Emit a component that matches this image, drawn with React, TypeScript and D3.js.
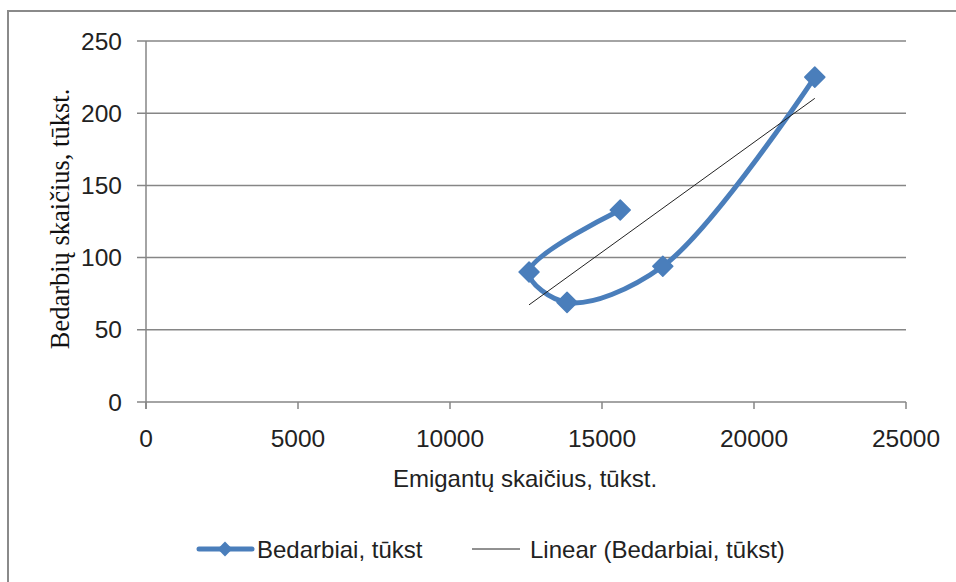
import React from "react";
import * as d3 from "d3";

const emigrants = [15600, 12600, 13850, 17000, 22000];
const unemployed = [133, 90, 69, 94, 225];
const xTicks = [0, 5000, 10000, 15000, 20000, 25000];
const yTicks = [0, 50, 100, 150, 200, 250];
const seriesName = "Bedarbiai, tūkst";
const trendName = "Linear (Bedarbiai, tūkst)";
const xTitle = "Emigantų skaičius, tūkst.";
const yTitle = "Bedarbių skaičius, tūkst.";

const W = 956;
const H = 582;
const left = 146, right = 906, top = 41, bottom = 402;
const blue = "#4A7EBB";
const grid = "#868686";
const sans = "'Liberation Sans', Arial, sans-serif";

export default function App() {
  const x = d3.scaleLinear().domain([0, 25000]).range([left, right]);
  const y = d3.scaleLinear().domain([0, 250]).range([bottom, top]);
  const pts: [number, number][] = emigrants.map((e, i) => [e, unemployed[i]]);

  const line = d3
    .line<[number, number]>()
    .x((d) => x(d[0]))
    .y((d) => y(d[1]))
    .curve(d3.curveCatmullRom.alpha(0.5));

  // linear regression
  const mx = d3.mean(emigrants)!;
  const my = d3.mean(unemployed)!;
  let sxy = 0, sxx = 0;
  pts.forEach(([a, b]) => {
    sxy += (a - mx) * (b - my);
    sxx += (a - mx) * (a - mx);
  });
  const slope = sxy / sxx;
  const icpt = my - slope * mx;
  const [x0, x1] = d3.extent(emigrants) as [number, number];
  const trend: [number, number][] = [
    [x0, icpt + slope * x0],
    [x1, icpt + slope * x1],
  ];
  const trendLine = d3.line<[number, number]>().x((d) => x(d[0])).y((d) => y(d[1]));

  const diamond = d3.symbol().type(d3.symbolSquare).size(200)();
  const diamondSmall = d3.symbol().type(d3.symbolSquare).size(110)();

  return (
    <svg
      width={W}
      height={H}
      style={{ position: "absolute", left: 0, top: 0, background: "#fff" }}
    >
      <rect x={8} y={11} width={W + 10} height={H + 10} fill="#fff" stroke="#8a8a8a" strokeWidth={2} />
      {yTicks.map((t) => (
        <g key={t}>
          <line x1={137} x2={right} y1={y(t)} y2={y(t)} stroke={grid} strokeWidth={1.5} />
          <text
            x={122}
            y={y(t)}
            textAnchor="end"
            dominantBaseline="central"
            fontFamily={sans}
            fontSize={24.5}
            fill="#222"
          >
            {t}
          </text>
        </g>
      ))}
      <line x1={left} x2={left} y1={top} y2={bottom + 7} stroke={grid} strokeWidth={1.5} />
      {xTicks.map((t) => (
        <g key={t}>
          <line x1={x(t)} x2={x(t)} y1={bottom} y2={bottom + 7} stroke={grid} strokeWidth={1.5} />
          <text
            x={x(t)}
            y={438}
            textAnchor="middle"
            dominantBaseline="central"
            fontFamily={sans}
            fontSize={24.5}
            fill="#222"
          >
            {t}
          </text>
        </g>
      ))}
      <text
        x={525}
        y={478}
        textAnchor="middle"
        dominantBaseline="central"
        fontFamily={sans}
        fontSize={24}
        fill="#222"
      >
        {xTitle}
      </text>
      <text
        transform={`translate(60,219) rotate(-90)`}
        textAnchor="middle"
        dominantBaseline="central"
        fontFamily="'Liberation Serif', 'Times New Roman', serif"
        fontSize={26.5}
        fill="#111"
      >
        {yTitle}
      </text>

      <path d={line(pts)!} fill="none" stroke={blue} strokeWidth={5} strokeLinejoin="round" strokeLinecap="round" />
      {pts.map((p, i) => (
        <path
          key={i}
          d={diamond}
          transform={`translate(${x(p[0])},${y(p[1])}) rotate(45)`}
          fill={blue}
          stroke={blue}
          strokeWidth={1.5}
          strokeLinejoin="round"
        />
      ))}
      <path d={trendLine(trend)!} fill="none" stroke="#222" strokeWidth={1} />

      {/* legend */}
      <line x1={199} x2={252} y1={549} y2={549} stroke={blue} strokeWidth={5} strokeLinecap="round" />
      <path d={diamondSmall} transform="translate(225,549) rotate(45)" fill={blue} />
      <text x={257} y={549} dominantBaseline="central" fontFamily={sans} fontSize={24} fill="#222">
        {seriesName}
      </text>
      <line x1={472} x2={520} y1={549} y2={549} stroke="#222" strokeWidth={1} />
      <text x={530} y={549} dominantBaseline="central" fontFamily={sans} fontSize={24} fill="#222">
        {trendName}
      </text>
    </svg>
  );
}
